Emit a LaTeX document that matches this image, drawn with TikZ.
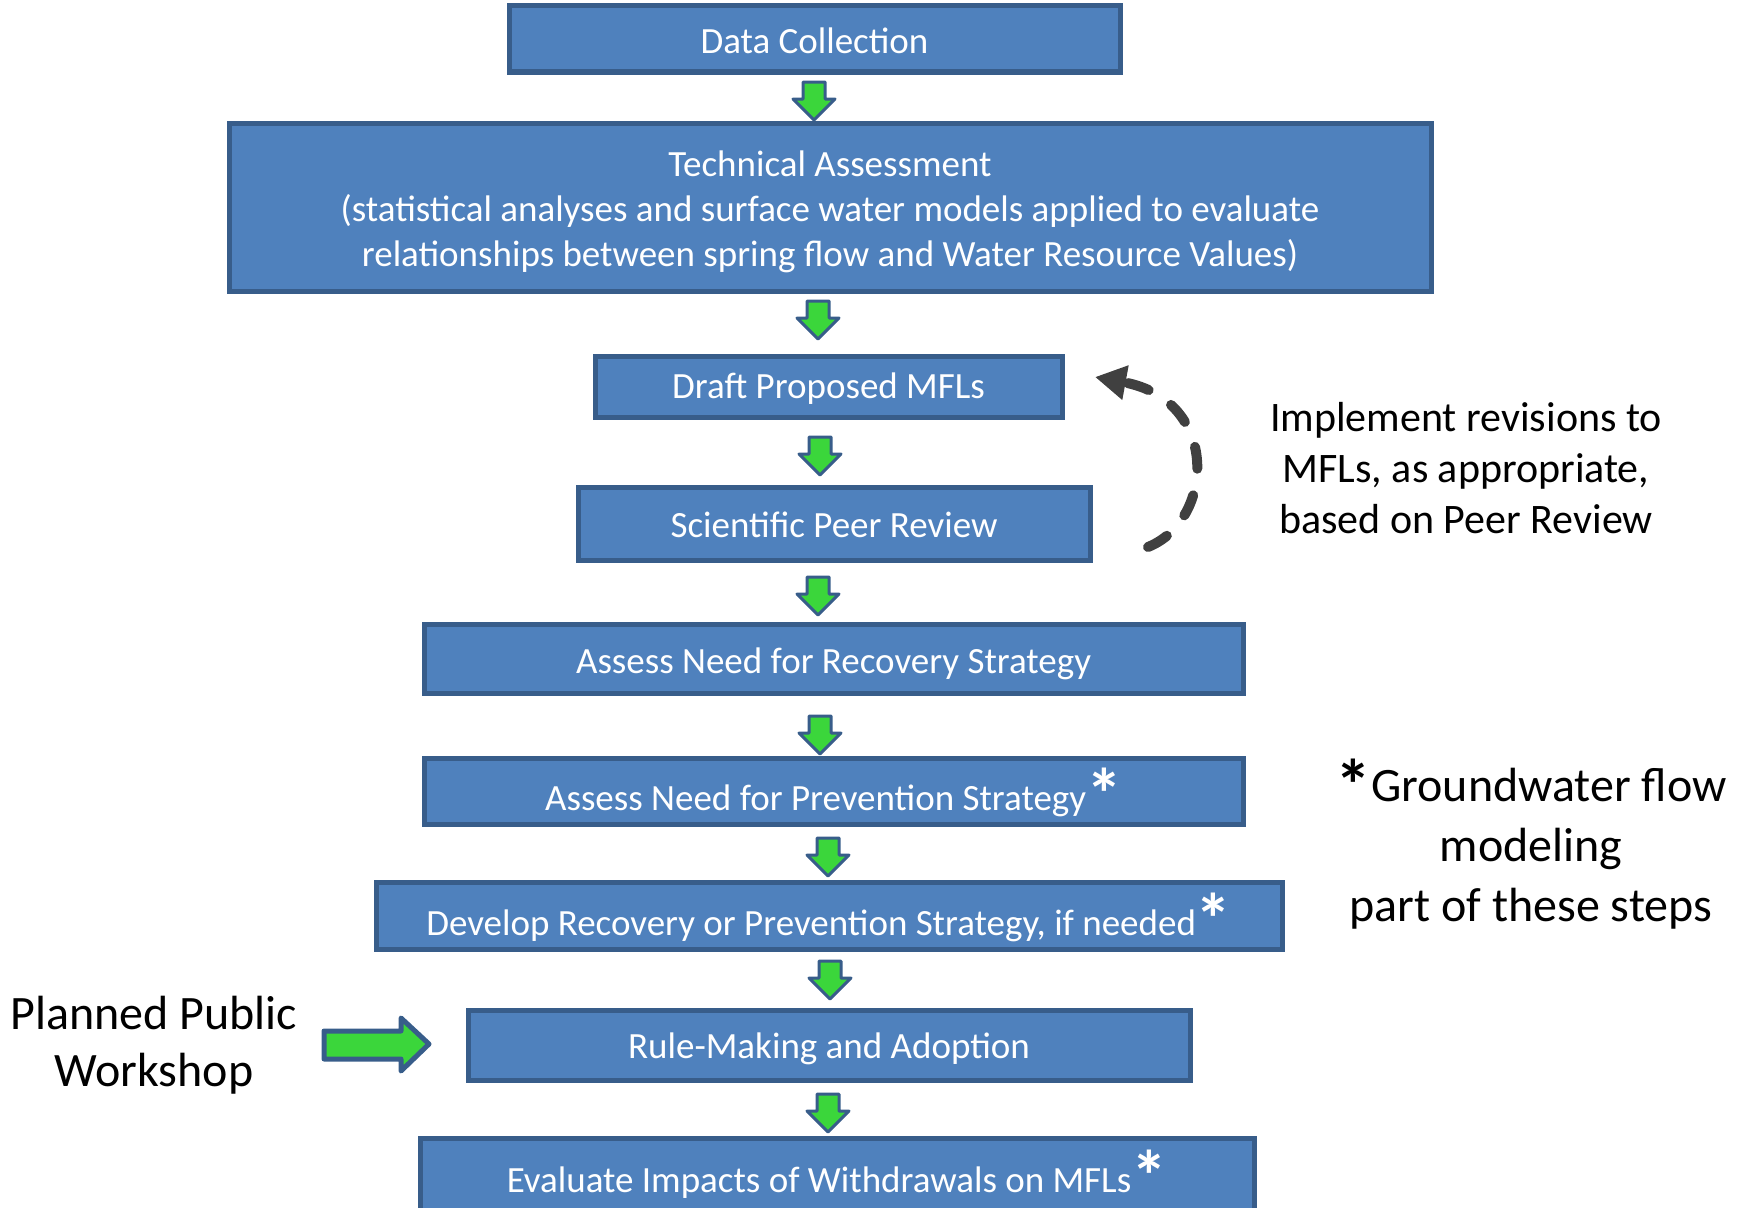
\documentclass[tikz,border=0pt]{standalone}
\usepackage{fontspec}
\setmainfont{Carlito}
\usetikzlibrary{arrows.meta,calc}
\definecolor{boxfill}{HTML}{4F81BD}
\definecolor{boxline}{HTML}{385D8A}
\definecolor{arrgreen}{HTML}{3BD63B}
\definecolor{dashgray}{HTML}{404040}
\newcommand\bigast{\smash{\raisebox{-9pt}{\fontsize{72}{72}\selectfont\bfseries *}}}
\begin{document}
\begin{tikzpicture}[x=1pt,y=-1pt,
  stepbox/.style={draw=boxline, fill=boxfill, line width=5pt, text=white, inner sep=0pt,
    font=\fontsize{37}{45}\selectfont, align=center},
  bl/.style={text height=#1, text depth=0pt},
  sidetext/.style={text=black, inner sep=0pt, align=center},
  arrowline/.style={draw=boxline, fill=arrgreen, line width=3pt, line join=round},
  pics/downarr/.style={code={
    \path[arrowline] (-11,0) -- (11,0) -- (11,17) -- (21,17) -- (0,38) -- (-21,17) -- (-11,17) -- cycle;}}
]
\useasboundingbox (0,0) rectangle (1742,1207);
\clip (0,0) rectangle (1742,1207);

% boxes
\node[stepbox, bl=28pt, minimum width=611pt, minimum height=66pt] (dc) at (814.5,39) {Data Collection};
\node[stepbox, minimum width=1202pt, minimum height=168pt] (ta) at (830,207)
  {\rule{0pt}{35pt}Technical Assessment\\(statistical analyses and surface water models applied to evaluate\\relationships between spring flow and Water Resource Values)};
\node[stepbox, bl=24pt, minimum width=467pt, minimum height=61pt] (dp) at (828.5,386.5) {Draft Proposed MFLs};
\node[stepbox, bl=28pt, minimum width=512pt, minimum height=73pt] (spr) at (834,523.5) {Scientific Peer Review};
\node[stepbox, bl=29pt, minimum width=819pt, minimum height=69pt] (anr) at (833.5,658.5) {Assess Need for Recovery Strategy};
\node[stepbox, bl=38pt, minimum width=819pt, minimum height=66pt] (anp) at (833.5,791) {Assess Need for Prevention Strategy\bigast};
\node[stepbox, bl=39pt, minimum width=906pt, minimum height=67pt] (dev) at (829,915.5) {Develop Recovery or Prevention Strategy, if needed\bigast};
\node[stepbox, bl=27pt, minimum width=722pt, minimum height=70pt] (rule) at (829,1045) {Rule-Making and Adoption};
\node[stepbox, bl=12pt, minimum width=834pt, minimum height=96pt] (eval) at (837,1186) {Evaluate Impacts of Withdrawals on MFLs\bigast};

% small block arrows between steps
\pic at (814,82) {downarr};
\pic at (818,301) {downarr};
\pic at (820,437) {downarr};
\pic at (818,577) {downarr};
\pic at (820,716) {downarr};
\pic at (828,838) {downarr};
\pic at (830,961) {downarr};
\pic at (828,1094) {downarr};

% side texts
\node[sidetext, font=\fontsize{42}{51}\selectfont] (rev) at (1466,468)
  {Implement revisions to\\MFLs, as appropriate,\\based on Peer Review};
\node[sidetext, font=\fontsize{48}{60}\selectfont] (gw) at (1531,849)
  {\bigast Groundwater flow\\modeling\\part of these steps};
\node[sidetext, font=\fontsize{48}{57}\selectfont] (ppw) at (154,1045)
  {Planned Public\\Workshop};

% dashed feedback arrow
\coordinate (fbstart) at (1148,547);
\coordinate (fbend) at (1095,377);
\draw[dashgray, line width=10pt, line cap=round, dash pattern=on 22pt off 27pt,
  -{Triangle[length=31pt,width=33pt]}]
  (fbstart) .. controls (1215,520) and (1220,400) .. (fbend);

% big green arrow to rule-making
\path[arrowline, line width=5pt] (324,1031) -- (401,1031) -- (401,1018) -- (429,1044)
  -- (401,1071) -- (401,1059) -- (324,1059) -- cycle;
\end{tikzpicture}
\end{document}
